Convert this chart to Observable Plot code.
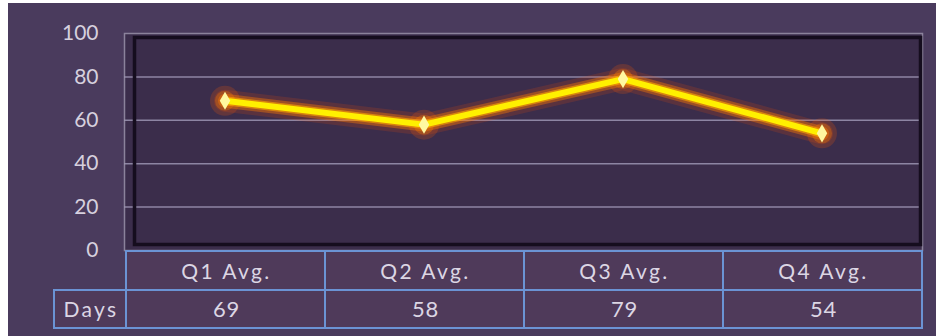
<!DOCTYPE html>
<html><head><meta charset="utf-8">
<script src="https://cdn.jsdelivr.net/npm/d3@7"></script>
<script src="https://cdn.jsdelivr.net/npm/@observablehq/plot@0.6"></script>
<style>
body{margin:0;background:#fff;width:936px;height:336px;overflow:hidden;position:relative;font-family:Lato,sans-serif}
#bg{position:absolute;left:8px;top:3px;width:928px;height:333px;background:#4a3b5d}
#chart{position:absolute;left:0;top:0}
.cell{position:absolute;box-sizing:border-box;border:2px solid #6b93d4;color:#dcd6e4;font-size:21px;display:flex;align-items:center;justify-content:center;letter-spacing:2.4px;padding-left:2px;background:rgba(95,55,85,0.25)}
.cell.num{letter-spacing:0.8px;font-size:22px}
</style></head><body>
<div id="bg"></div><div id="chart"></div><div id="table"></div>
<script>
const quarters = ["Q1 Avg.","Q2 Avg.","Q3 Avg.","Q4 Avg."];
const days = [69, 58, 79, 54];
const rowLabel = "Days";
const yTicks = [0, 20, 40, 60, 80, 100];
const gridValues = [20, 40, 60, 80];

const data = quarters.map((q, i) => ({q, v: days[i]}));

const plot = Plot.plot({
  width: 936, height: 336,
  marginLeft: 124, marginRight: 14, marginTop: 33, marginBottom: 86,
  style: {background: "transparent", color: "#d6d0de", fontFamily: "Lato, sans-serif", fontSize: "21px", overflow: "visible"},
  x: {type: "band", domain: quarters, axis: null, padding: 0},
  y: {domain: [0, 100], axis: null},
  marks: [
    Plot.frame({fill: "#3b2d4b"}),
    Plot.gridY(gridValues, {stroke: "#aaa3c0", strokeOpacity: 0.75, strokeWidth: 1.5}),
    Plot.frame({stroke: "#9d96ae", strokeWidth: 1.5, strokeOpacity: 0.8}),
    Plot.frame({stroke: "#150d1e", strokeWidth: 3.5, insetLeft: 10, insetTop: 4, insetRight: 2, insetBottom: 6}),
    Plot.axisY(yTicks, {tickSize: 0, tickPadding: 26, fontSize: 21, label: null}),
    Plot.dot(data, {x: "q", y: "v", r: 15, fill: "#ff5a00", fillOpacity: 0.2, stroke: "none"}),
    Plot.dot(data, {x: "q", y: "v", r: 10, fill: "#ff8a00", fillOpacity: 0.3, stroke: "none"}),
    Plot.line(data, {x: "q", y: "v", stroke: "#ff4e00", strokeWidth: 22, strokeOpacity: 0.16, strokeLinejoin: "round", strokeLinecap: "round"}),
    Plot.line(data, {x: "q", y: "v", stroke: "#ff7a00", strokeWidth: 14, strokeOpacity: 0.4, strokeLinejoin: "round", strokeLinecap: "round"}),
    Plot.line(data, {x: "q", y: "v", stroke: "#ffa800", strokeWidth: 9, strokeOpacity: 0.6, strokeLinejoin: "round", strokeLinecap: "round"}),
    Plot.line(data, {x: "q", y: "v", stroke: "#fff000", strokeWidth: 6, strokeLinejoin: "round"}),
    Plot.dot(data, {x: "q", y: "v", symbol: "diamond", r: 5.5, fill: "#fff8a0", stroke: "none"})
  ]
});
document.getElementById("chart").append(plot);

const xs = plot.scale("x");
const ys = plot.scale("y");
const top0 = ys.apply(0);
const rowH = 38.5;
const bw = xs.bandwidth;
const table = document.getElementById("table");
function cell(left, top, w, h, text, cls) {
  const d = document.createElement("div");
  d.className = "cell" + (cls ? " " + cls : "");
  d.style.left = left + "px"; d.style.top = top + "px";
  d.style.width = w + "px"; d.style.height = h + "px";
  d.textContent = text;
  table.append(d);
}
quarters.forEach((q, i) => {
  const x0 = xs.apply(q);
  cell(x0, top0, bw + 2, rowH + 2, q);
  cell(x0, top0 + rowH, bw + 2, rowH + 2, String(days[i]), "num");
});
cell(53, top0 + rowH, xs.apply(quarters[0]) - 53 + 2, rowH + 2, rowLabel);
</script>
</body></html>
